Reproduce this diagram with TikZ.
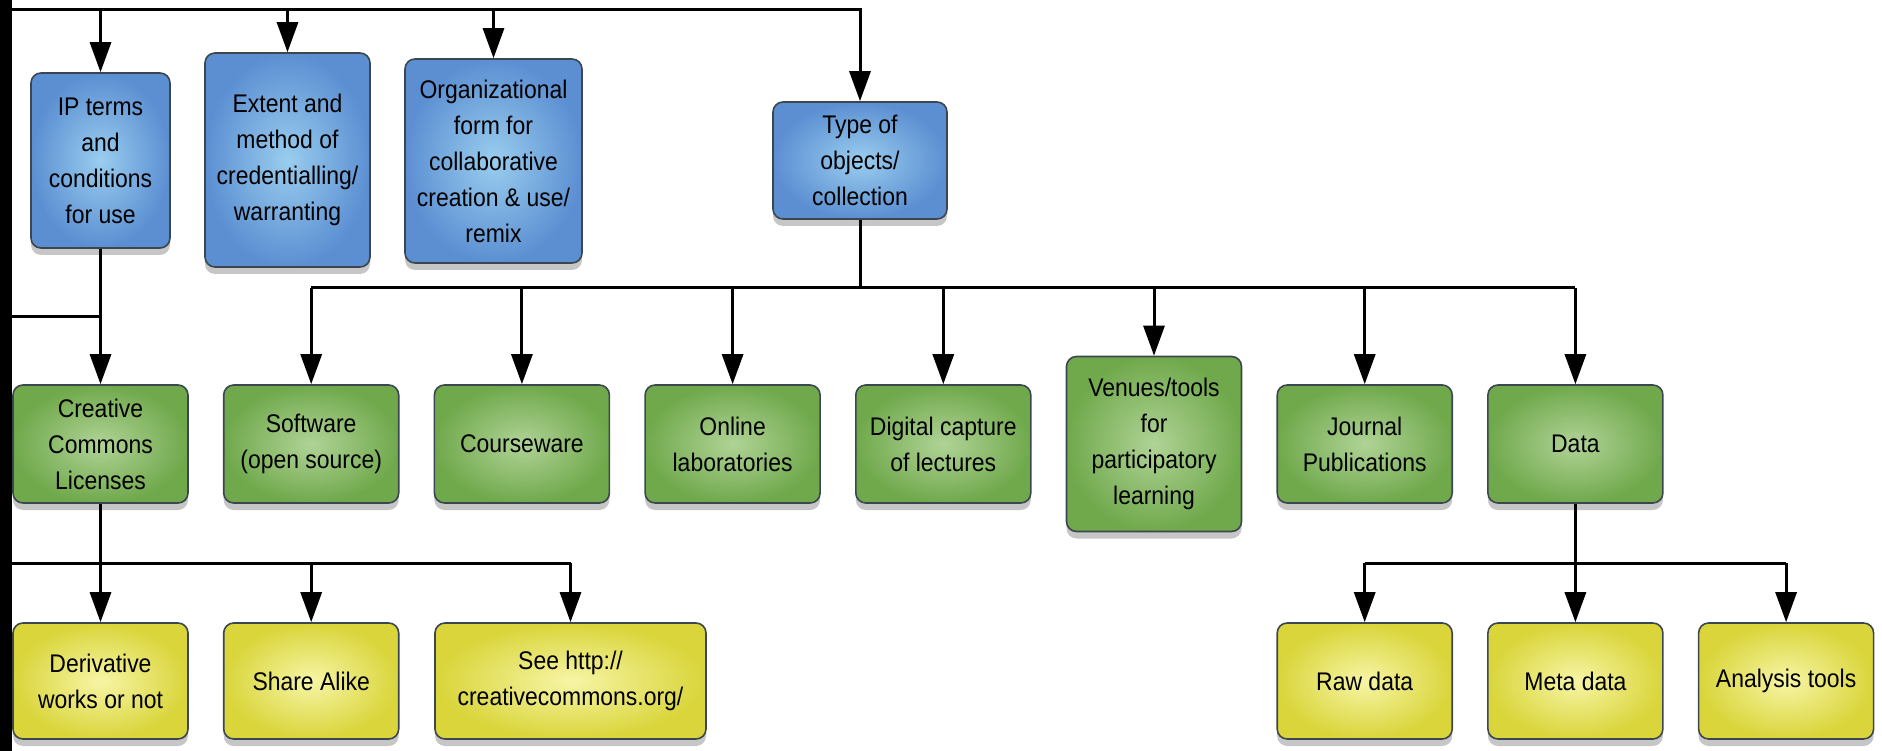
\documentclass[tikz,border=0pt]{standalone}
\usepackage{fontspec}
\setmainfont{Liberation Sans}[FakeStretch=0.9]
\usepackage{tikz}
\usetikzlibrary{arrows.meta, shadows}
\definecolor{bluein}{HTML}{9ACDEE}
\definecolor{blueout}{HTML}{5B8FD2}
\definecolor{greenin}{HTML}{B0D396}
\definecolor{greenout}{HTML}{70A94C}
\definecolor{yellowin}{HTML}{F7F5A6}
\definecolor{yellowout}{HTML}{D9D53A}
\definecolor{boxline}{HTML}{3C4650}
\tikzstyle{topic} = [rectangle, rounded corners=10pt, draw=boxline, line width=1.6pt, inner color=bluein, outer color=blueout, drop shadow={shadow xshift=0pt, shadow yshift=-7pt, opacity=0.45}, align=center, text=black, font=\fontsize{25.5}{36}\selectfont]
\tikzstyle{category} = [topic, inner color=greenin, outer color=greenout, minimum width=175pt, minimum height=118pt]
\tikzstyle{detail} = [topic, inner color=yellowin, outer color=yellowout, minimum width=175pt, minimum height=116pt]
\tikzstyle{wire} = [line width=3pt, black]
\tikzstyle{arrow} = [wire, -{Triangle[length=30pt, width=21pt]}]

\begin{document}
\begin{tikzpicture}[x=1pt, y=-1pt, node distance=210.7pt]
    \useasboundingbox (0,0) rectangle (1882,751);
    \fill [black] (0,0) rectangle (12,751);

    % Nodes
    \node (ipterms) [topic, minimum width=139pt, minimum height=175pt] at (100.5,160.5) {IP terms\\and\\conditions\\for use};
    \node (extent) [topic, minimum width=165pt, minimum height=214pt] at (287.5,160) {Extent and\\method of\\credentialling/\\warranting};
    \node (orgform) [topic, minimum width=177pt, minimum height=204pt] at (493.5,161) {Organizational\\form for\\collaborative\\creation \& use/\\remix};
    \node (objtype) [topic, minimum width=174pt, minimum height=117pt] at (860,160.5) {Type of\\objects/\\collection};

    \node (cclicense) [category] at (100.5,444) {Creative\\Commons\\Licenses};
    \node (software) [category, right of=cclicense] {Software\\(open source)};
    \node (courseware) [category, right of=software] {Courseware};
    \node (onlinelab) [category, right of=courseware] {Online\\laboratories};
    \node (digital) [category, right of=onlinelab] {Digital capture\\of lectures};
    \node (venues) [category, right of=digital, minimum height=175pt] {Venues/tools\\for\\participatory\\learning};
    \node (journal) [category, right of=venues] {Journal\\Publications};
    \node (data) [category, right of=journal] {Data};

    \node (derivative) [detail] at (100.5,681) {Derivative\\works or not};
    \node (sharealike) [detail, right of=derivative] {Share Alike};
    \node (seecc) [detail, minimum width=271pt] at (570.5,681) {See http://\\creativecommons.org/};
    \node (metadata) [detail] at (data |- derivative) {Meta data};
    \node (rawdata) [detail, left of=metadata] {Raw data};
    \node (analysis) [detail, right of=metadata] {Analysis tools};

    \coordinate (topleft) at (12,10);
    \coordinate (lvltwo) at (12,288);
    \coordinate (ccleft) at (12,317);
    \coordinate (lvlthree) at (12,563);

    % Arrows
    \draw [arrow] (topleft) -| (objtype);
    \draw [arrow] (ipterms |- topleft) -- (ipterms);
    \draw [arrow] (extent |- topleft) -- (extent);
    \draw [arrow] (orgform |- topleft) -- (orgform);
    \draw [arrow] (ipterms) -- (cclicense);
    \draw [wire] (ccleft) -- (ipterms |- ccleft);
    \draw [wire] (objtype) -- (objtype |- lvltwo);
    \draw [wire] (software |- lvltwo) -- (data |- lvltwo);
    \foreach \n in {software, courseware, onlinelab, digital, venues, journal, data}
        \draw [arrow] (\n |- lvltwo) -- (\n);
    \draw [arrow] (cclicense) -- (derivative);
    \draw [wire] (lvlthree) -- (seecc |- lvlthree);
    \draw [arrow] (sharealike |- lvlthree) -- (sharealike);
    \draw [arrow] (seecc |- lvlthree) -- (seecc);
    \draw [arrow] (data) -- (metadata);
    \draw [wire] (rawdata |- lvlthree) -- (analysis |- lvlthree);
    \draw [arrow] (rawdata |- lvlthree) -- (rawdata);
    \draw [arrow] (analysis |- lvlthree) -- (analysis);
\end{tikzpicture}
\end{document}
